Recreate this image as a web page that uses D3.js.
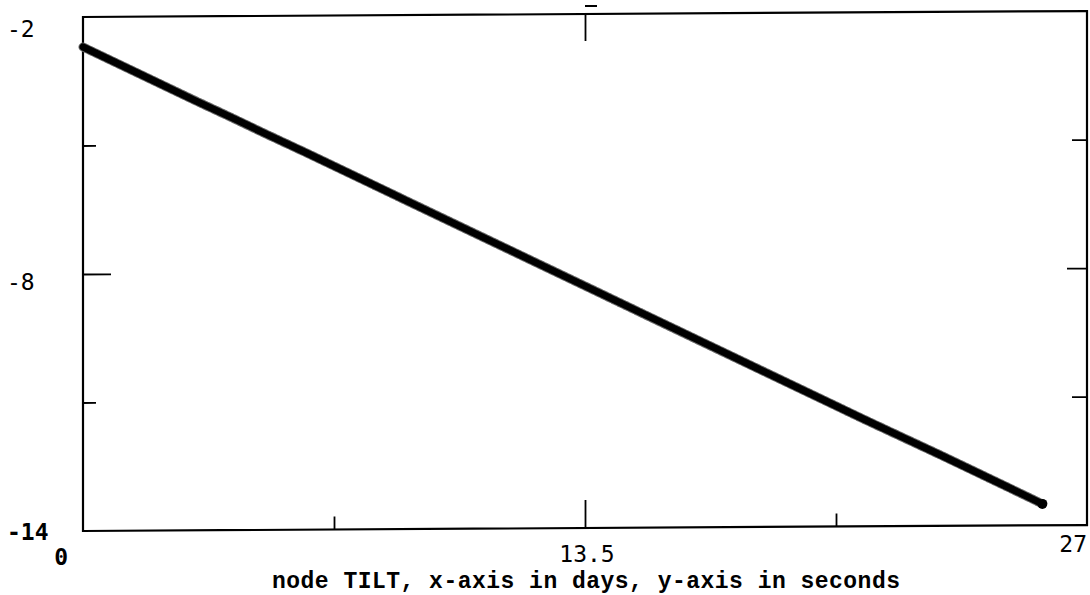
<!DOCTYPE html>
<html>
<head>
<meta charset="utf-8">
<script src="https://cdn.jsdelivr.net/npm/d3@7"></script>
<style>
  html, body { margin: 0; padding: 0; background: #fff; }
  svg { display: block; }
</style>
</head>
<body>
<svg id="chart" width="1090" height="595"></svg>
<script>
// ---- data ----
const days    = [0, 1, 2, 3, 4, 5, 6, 7, 8, 9, 10, 11, 12, 13, 14, 15, 16, 17, 18, 19, 20, 21, 22, 23, 24, 25, 25.8];
const seconds = [-2.70, -3.12, -3.54, -3.96, -4.37, -4.79, -5.20, -5.62, -6.04, -6.46, -6.88, -7.30, -7.72, -8.14,
                 -8.56, -8.98, -9.40, -9.82, -10.24, -10.66, -11.08, -11.50, -11.91, -12.32, -12.74, -13.16, -13.50];
const xTicks = [0, 6.75, 13.5, 20.25, 27];
const yTicks = [-2, -5, -8, -11, -14];
const xTickLabels = ["0", "13.5", "27"];
const xTickLabelValues = [0, 13.5, 27];
const yTickLabels = ["-2", "-8", "-14"];
const yTickLabelValues = [-2, -8, -14];
const title = "node TILT, x-axis in days, y-axis in seconds";

// ---- layout ----
const mLeft = 83, mRight = 1087, mTop = 17, mBottom = 531;
const svg = d3.select("#chart");

const x = d3.scaleLinear().domain([0, 27]).range([mLeft, mRight]);
const y = d3.scaleLinear().domain([-2, -14]).range([mTop, mBottom]);

// plot group with a slight skew like the scanned original
const plot = svg.append("g")
  .attr("transform", `translate(${mLeft},0) skewY(-0.34) translate(${-mLeft},0)`);

// frame
plot.append("rect")
  .attr("x", mLeft).attr("y", mTop)
  .attr("width", mRight - mLeft).attr("height", mBottom - mTop)
  .attr("fill", "none").attr("stroke", "#000").attr("stroke-width", 2.2);

const isMajor = (v, dom) => Math.abs(v - (dom[0] + dom[1]) / 2) < 1e-9;

const innerX = xTicks.slice(1, -1);
const innerY = yTicks.slice(1, -1);

function styleTicks(g) {
  g.select(".domain").remove();
  g.selectAll("text").remove();
  g.selectAll(".tick line")
    .attr("stroke", "#000").attr("stroke-width", 1.8);
}

const axB = plot.append("g").attr("transform", `translate(0,${mBottom})`)
  .call(d3.axisTop(x).tickValues(innerX).tickSize(13).tickFormat(""));
styleTicks(axB);
axB.selectAll(".tick line").attr("y2", d => isMajor(d, [0, 27]) ? -28 : -13);

const axT = plot.append("g").attr("transform", `translate(0,${mTop})`)
  .call(d3.axisBottom(x).tickValues([13.5]).tickSize(27).tickFormat(""));
styleTicks(axT);

const axL = plot.append("g").attr("transform", `translate(${mLeft},0)`)
  .call(d3.axisRight(y).tickValues(innerY).tickSize(13).tickFormat(""));
styleTicks(axL);
axL.selectAll(".tick line").attr("x2", d => isMajor(d, [-2, -14]) ? 28 : 13);

const axR = plot.append("g").attr("transform", `translate(${mRight},0)`)
  .call(d3.axisLeft(y).tickValues(innerY).tickSize(15).tickFormat(""));
styleTicks(axR);
axR.selectAll(".tick line").attr("x2", d => isMajor(d, [-2, -14]) ? -20 : -15);

// data line: thick, slightly rough trace
const pts = days.map((d, i) => [d, seconds[i]]);
const line = d3.line().x(d => x(d[0])).y(d => y(d[1]));
plot.append("path").datum(pts)
  .attr("d", line).attr("fill", "none")
  .attr("stroke", "#666").attr("stroke-width", 9).attr("stroke-linecap", "round")
  .attr("stroke-dasharray", "2,1.2");
plot.append("path").datum(pts)
  .attr("d", line).attr("fill", "none")
  .attr("stroke", "#000").attr("stroke-width", 7).attr("stroke-linecap", "round");
plot.append("circle")
  .attr("cx", x(days[days.length - 1])).attr("cy", y(seconds[seconds.length - 1]))
  .attr("r", 5).attr("fill", "#000");

// small mark above the top frame
svg.append("line")
  .attr("x1", x(13.5)).attr("x2", x(13.5) + 12)
  .attr("y1", 6).attr("y2", 6)
  .attr("stroke", "#000").attr("stroke-width", 2);

// y tick labels
const labelFont = "'DejaVu Sans Mono', monospace";
svg.append("g").selectAll("text")
  .data(yTickLabelValues)
  .join("text")
  .attr("x", 7)
  .attr("y", v => Math.max(mTop + 20, Math.min(mBottom + 9, y(v) + 16)))
  .attr("font-family", labelFont)
  .attr("font-size", 23)
  .attr("font-weight", (v, i) => i === yTickLabelValues.length - 1 ? "bold" : "normal")
  .attr("fill", "#000")
  .text((v, i) => yTickLabels[i]);

// x tick labels
const n = xTickLabelValues.length;
svg.append("g").selectAll("text")
  .data(xTickLabelValues)
  .join("text")
  .attr("x", (v, i) => i === 0 ? x(v) - 15 : (i === n - 1 ? x(v) : x(v) + 2))
  .attr("y", (v, i) => i === 0 ? mBottom + 34 : (i === n - 1 ? mBottom + 21 : mBottom + 31))
  .attr("text-anchor", (v, i) => i === 0 || i === n - 1 ? "end" : "middle")
  .attr("font-family", labelFont)
  .attr("font-size", 23)
  .attr("font-weight", (v, i) => i === 0 ? "bold" : "normal")
  .attr("fill", "#000")
  .text((v, i) => xTickLabels[i]);

// title
svg.append("text")
  .attr("x", 272).attr("y", 588)
  .attr("font-family", "'Liberation Mono', 'Courier New', monospace")
  .attr("font-weight", "bold")
  .attr("font-size", 23)
  .attr("textLength", 628).attr("lengthAdjust", "spacing")
  .attr("fill", "#000")
  .text(title);
</script>
</body>
</html>
